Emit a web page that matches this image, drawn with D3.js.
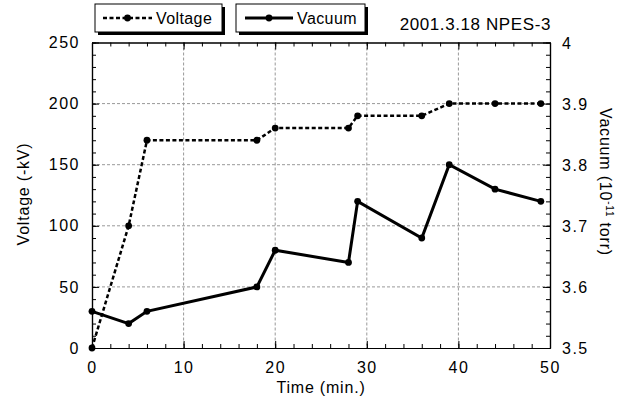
<!DOCTYPE html>
<html>
<head>
<meta charset="utf-8">
<script src="https://cdn.jsdelivr.net/npm/d3@7"></script>
<style>
body { margin: 0; background: #fff; }
text { font-family: "Liberation Sans", Arial, sans-serif; fill: #000; }
</style>
</head>
<body>
<svg id="chart" width="626" height="405"></svg>
<script>
// time in minutes
var time = [0, 4, 6, 18, 20, 28, 29, 36, 39, 44, 49];
// voltage (-kV)
var voltage = [0, 100, 170, 170, 180, 180, 190, 190, 200, 200, 200];
// vacuum (10^-11 torr)
var vacuum = [3.56, 3.54, 3.56, 3.60, 3.66, 3.64, 3.74, 3.68, 3.80, 3.76, 3.74];

var xTicks = [0, 10, 20, 30, 40, 50];
var yTicks = [0, 50, 100, 150, 200, 250];
var y2Ticks = [3.5, 3.6, 3.7, 3.8, 3.9, 4];

var pL = 92, pR = 550, pT = 42.5, pB = 348;

var svg = d3.select('#chart');

var x = d3.scaleLinear().domain([0, 50]).range([pL, pR]);
var y = d3.scaleLinear().domain([0, 250]).range([pB, pT]);
var y2 = d3.scaleLinear().domain([3.5, 4]).range([pB, pT]);

// grid
var grid = svg.append('g');
xTicks.slice(1, -1).forEach(function(t){
    grid.append('line')
        .attr('x1', x(t)).attr('x2', x(t))
        .attr('y1', pT).attr('y2', pB)
        .attr('stroke', '#999').attr('stroke-width', 1)
        .attr('stroke-dasharray', '3,2');
});
yTicks.slice(1, -1).forEach(function(t){
    grid.append('line')
        .attr('x1', pL).attr('x2', pR)
        .attr('y1', y(t)).attr('y2', y(t))
        .attr('stroke', '#999').attr('stroke-width', 1)
        .attr('stroke-dasharray', '3,2');
});

// axes, ticks inside
function fmt(d){ return d3.format('')(d); }
var minorX = d3.range(0, 51, 2);
var minorY = d3.range(0, 251, 10);
var minorY2 = d3.range(0, 26).map(function(i){ return 3.5 + i * 0.02; });

svg.append('g').attr('transform', 'translate(0,' + pB + ')')
    .call(d3.axisBottom(x).tickValues(minorX).tickSizeInner(-4).tickSizeOuter(0).tickFormat(''));
var ax2 = svg.append('g').attr('transform', 'translate(0,' + pB + ')')
    .call(d3.axisBottom(x).tickValues(xTicks).tickSizeInner(-7).tickSizeOuter(0).tickFormat(fmt));
svg.append('g').attr('transform', 'translate(0,' + pT + ')')
    .call(d3.axisTop(x).tickValues(minorX).tickSizeInner(-4).tickSizeOuter(0).tickFormat(''));
svg.append('g').attr('transform', 'translate(0,' + pT + ')')
    .call(d3.axisTop(x).tickValues(xTicks).tickSizeInner(-7).tickSizeOuter(0).tickFormat(''));
svg.append('g').attr('transform', 'translate(' + pL + ',0)')
    .call(d3.axisLeft(y).tickValues(minorY).tickSizeInner(-4).tickSizeOuter(0).tickFormat(''));
var ay1 = svg.append('g').attr('transform', 'translate(' + pL + ',0)')
    .call(d3.axisLeft(y).tickValues(yTicks).tickSizeInner(-7).tickSizeOuter(0).tickFormat(fmt));
svg.append('g').attr('transform', 'translate(' + pR + ',0)')
    .call(d3.axisRight(y2).tickValues(minorY2).tickSizeInner(-4).tickSizeOuter(0).tickFormat(''));
var ayr1 = svg.append('g').attr('transform', 'translate(' + pR + ',0)')
    .call(d3.axisRight(y2).tickValues(y2Ticks).tickSizeInner(-7).tickSizeOuter(0).tickFormat(d3.format('')));

svg.selectAll('.domain').attr('stroke', '#000').attr('stroke-width', 1.2);
svg.selectAll('.tick line').attr('stroke', '#000');
svg.selectAll('.tick text')
    .style('font-family', '"Liberation Sans", Arial, sans-serif')
    .style('font-size', '16px')
    .style('letter-spacing', '1.5px')
    .attr('fill', '#000');
ax2.selectAll('.tick text').attr('y', 14).attr('dy', '0.71em');
ay1.selectAll('.tick text').attr('x', -12).attr('dy', '0.32em');
ayr1.selectAll('.tick text').attr('x', 12).attr('dy', '0.35em');

// lines
var lineV = d3.line()
    .x(function(d, i){ return x(time[i]); })
    .y(function(d){ return y(d); });
var lineQ = d3.line()
    .x(function(d, i){ return x(time[i]); })
    .y(function(d){ return y2(d); });

svg.append('path').datum(voltage)
    .attr('d', lineV)
    .attr('fill', 'none').attr('stroke', '#000')
    .attr('stroke-width', 2.5).attr('stroke-dasharray', '4,2.5');
svg.append('path').datum(vacuum)
    .attr('d', lineQ)
    .attr('fill', 'none').attr('stroke', '#000')
    .attr('stroke-width', 3);

svg.append('g').selectAll('circle').data(voltage).enter().append('circle')
    .attr('cx', function(d, i){ return x(time[i]); })
    .attr('cy', function(d){ return y(d); })
    .attr('r', 3.4).attr('fill', '#000');
svg.append('g').selectAll('circle').data(vacuum).enter().append('circle')
    .attr('cx', function(d, i){ return x(time[i]); })
    .attr('cy', function(d){ return y2(d); })
    .attr('r', 3.4).attr('fill', '#000');

// axis titles
svg.append('text')
    .attr('x', 321).attr('y', 393)
    .attr('text-anchor', 'middle')
    .style('font-size', '16px').style('letter-spacing', '0.8px')
    .text('Time (min.)');
svg.append('text')
    .attr('transform', 'translate(29,194) rotate(-90)')
    .attr('text-anchor', 'middle')
    .style('font-size', '16px').style('letter-spacing', '0.8px')
    .text('Voltage (-kV)');
var rt = svg.append('text')
    .attr('transform', 'translate(600,182) rotate(90)')
    .attr('text-anchor', 'middle')
    .style('font-size', '16px').style('letter-spacing', '0.8px');
rt.append('tspan').text('Vacuum (10');
rt.append('tspan').attr('dy', -6).style('font-size', '10px').text('-11');
rt.append('tspan').attr('dy', 6).text(' torr)');

// title
svg.append('text')
    .attr('x', 551).attr('y', 30)
    .attr('text-anchor', 'end')
    .style('font-size', '17px').style('letter-spacing', '0.6px')
    .text('2001.3.18 NPES-3');

// legend
var legend = [
    { name: 'Voltage', x0: 95, x1: 222, dash: '4,2.5', w: 2.5, lx0: 103, lx1: 152, tx: 156 },
    { name: 'Vacuum', x0: 236, x1: 365, dash: null, w: 3, lx0: 245, lx1: 293, tx: 297 }
];
legend.forEach(function(l){
    var g = svg.append('g');
    g.append('rect').attr('x', l.x0 + 3).attr('y', 7)
        .attr('width', l.x1 - l.x0).attr('height', 28).attr('fill', '#000');
    g.append('rect').attr('x', l.x0).attr('y', 4)
        .attr('width', l.x1 - l.x0).attr('height', 28)
        .attr('fill', '#fff').attr('stroke', '#000').attr('stroke-width', 1);
    g.append('line').attr('x1', l.lx0).attr('x2', l.lx1).attr('y1', 18).attr('y2', 18)
        .attr('stroke', '#000').attr('stroke-width', l.w)
        .attr('stroke-dasharray', l.dash);
    g.append('circle').attr('cx', (l.lx0 + l.lx1) / 2).attr('cy', 18).attr('r', 3.4).attr('fill', '#000');
    g.append('text').attr('x', l.tx).attr('y', 24)
        .style('font-size', '16px').style('letter-spacing', '0.4px')
        .text(l.name);
});
</script>
</body>
</html>
